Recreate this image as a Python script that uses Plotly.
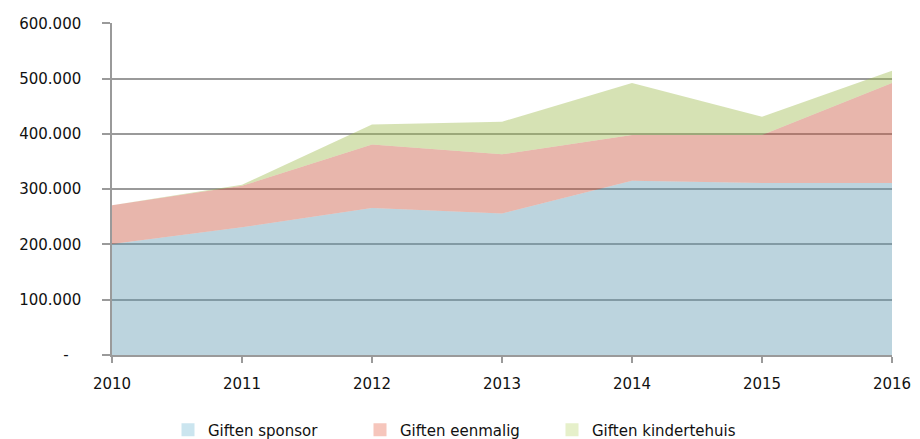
import plotly.graph_objects as go

years = [2010, 2011, 2012, 2013, 2014, 2015, 2016]
giften_sponsor = [201000, 231000, 266000, 256000, 315000, 311000, 311000]
giften_eenmalig = [70000, 75000, 115000, 107000, 83000, 87000, 181000]
giften_kindertehuis = [0, 2000, 36000, 59000, 94000, 33000, 22000]

series_names = ["Giften sponsor", "Giften eenmalig", "Giften kindertehuis"]
area_colors = ["rgba(100,156,179,0.43)", "rgba(202,86,63,0.43)", "rgba(160,188,81,0.43)"]
legend_colors = ["#CBE5EF", "#F6C6BC", "#E6F0CA"]

y_tickvals = [0, 100000, 200000, 300000, 400000, 500000, 600000]
y_ticktext = ["-\u00a0\u00a0\u2009", "100.000", "200.000", "300.000", "400.000", "500.000", "600.000"]

fig = go.Figure()
for name, vals, col in zip(series_names, [giften_sponsor, giften_eenmalig, giften_kindertehuis], area_colors):
    fig.add_trace(go.Scatter(
        x=years, y=vals, name=name, mode="lines", stackgroup="one",
        line=dict(width=0, color=col), fillcolor=col, showlegend=False,
        hoverinfo="skip",
    ))
for name, col in zip(series_names, legend_colors):
    fig.add_trace(go.Scatter(
        x=[None], y=[None], name=name, mode="markers",
        marker=dict(symbol="square", size=13, color=col),
    ))

W, H = 904, 431
fig.update_layout(
    width=W, height=H,
    margin=dict(l=104, r=20, t=15, b=84, autoexpand=False),
    paper_bgcolor="white", plot_bgcolor="white",
    font=dict(family="DejaVu Sans", size=15, color="#111111"),
    showlegend=True,
    legend=dict(orientation="h", xref="container", yref="container",
                x=160 / W, xanchor="left", y=9 / H, yanchor="middle",
                font=dict(size=15), traceorder="normal",
                entrywidth=147, entrywidthmode="pixels", tracegroupgap=0),
)
fig.update_xaxes(
    range=[2010, 2016], tickvals=years, ticktext=[str(y) for y in years],
    showgrid=False, showline=True, linecolor="#9a9a9a", linewidth=1.5,
    ticks="outside", ticklen=6, tickcolor="#9a9a9a", tickwidth=1.5,
    ticklabelstandoff=8, zeroline=False, automargin=False,
)
fig.update_yaxes(
    range=[0, 600600], tickvals=y_tickvals, ticktext=y_ticktext,
    showgrid=True, gridcolor="#9a9a9a", gridwidth=1.5,
    showline=True, linecolor="#9a9a9a", linewidth=1.5,
    ticks="outside", ticklen=8, tickcolor="#9a9a9a", tickwidth=1.5,
    ticklabelstandoff=18, zeroline=False, automargin=False,
)

fig.write_html("out.html")
